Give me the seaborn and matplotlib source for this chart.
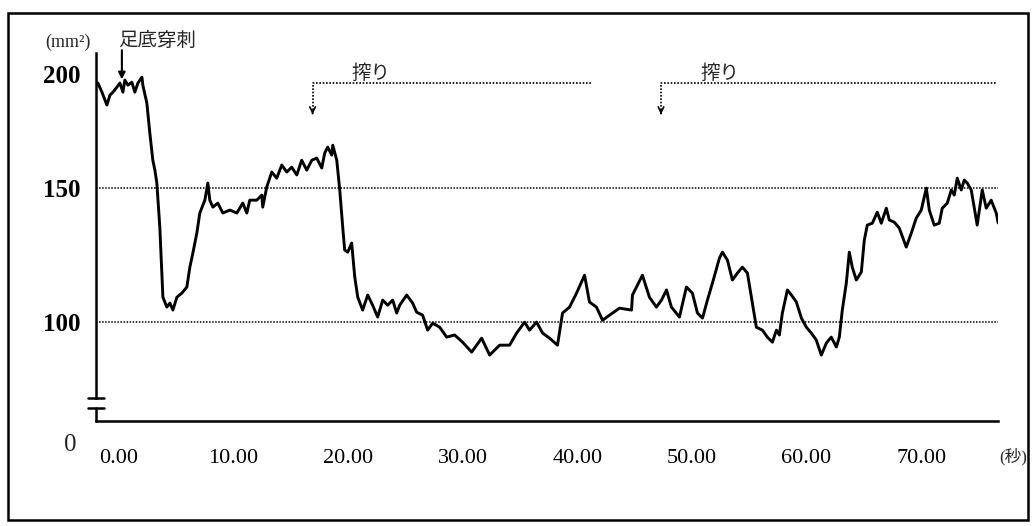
import matplotlib
matplotlib.use("Agg")
import matplotlib.pyplot as plt
import matplotlib.transforms as mtransforms
import pandas as pd
import seaborn as sns
from matplotlib.patches import Rectangle

# trace: time (s) and area (mm^2)
time_s = [
    -2.00, -1.83, -1.48, -1.05, -0.78, -0.52, -0.17, 0.09, 0.35, 0.52, 0.78, 1.13,
    1.39, 1.66, 2.01, 2.09, 2.44, 2.70, 2.96, 3.14, 3.31, 3.57, 3.84, 4.18, 4.45,
    4.71, 5.06, 5.49, 5.93, 6.19, 6.45, 6.80, 7.06, 7.50, 7.76, 7.93, 8.20, 8.63,
    9.07, 9.68, 10.29, 10.81, 11.16, 11.42, 12.03, 12.47, 12.55, 12.90, 13.34,
    13.77, 14.21, 14.65, 15.08, 15.52, 15.95, 16.39, 16.83, 17.26, 17.70, 17.96,
    18.22, 18.57, 18.66, 19.01, 19.27, 19.53, 19.70, 19.97, 20.31, 20.58, 20.84,
    21.27, 21.71, 22.14, 22.58, 23.02, 23.45, 23.89, 24.24, 24.50, 25.11, 25.63,
    25.98, 26.50, 26.94, 27.38, 27.99, 28.60, 29.29, 29.99, 30.78, 31.65, 32.35,
    33.22, 34.09, 34.70, 35.40, 35.83, 36.44, 36.97, 37.58, 38.27, 38.71, 39.32,
    39.93, 40.63, 41.06, 41.67, 42.20, 42.81, 43.68, 44.73, 44.81, 45.68, 46.29,
    46.90, 47.34, 47.78, 48.21, 48.91, 49.52, 50.04, 50.48, 50.92, 51.35, 51.79,
    52.40, 52.66, 53.10, 53.53, 53.97, 54.40, 54.84, 55.19, 55.62, 56.15, 56.58,
    57.02, 57.37, 57.63, 57.89, 58.33, 58.68, 59.11, 59.55, 59.98, 60.42, 60.85,
    61.29, 61.73, 62.16, 62.60, 62.86, 63.12, 63.47, 63.73, 63.99, 64.34, 64.78,
    65.04, 65.30, 65.74, 66.17, 66.52, 66.96, 67.22, 67.65, 68.09, 68.70, 69.14,
    69.57, 70.01, 70.45, 70.71, 71.14, 71.58, 71.84, 72.28, 72.63, 72.89, 73.15,
    73.50, 73.76, 74.02, 74.37, 74.89, 75.33, 75.68, 76.11, 76.55, 76.72,
]
area_mm2 = [
    188.4, 189.2, 185.8, 181.0, 184.7, 185.8, 187.7, 189.2, 185.8, 190.3, 188.4, 189.5,
    185.8, 189.2, 191.4, 188.4, 181.7, 170.5, 160.4, 156.7, 151.9, 135.4, 109.3, 105.6,
    107.1, 104.5, 109.3, 110.8, 113.1, 120.5, 125.7, 133.2, 140.7, 145.5, 151.9, 145.5,
    142.9, 144.4, 140.7, 141.8, 140.7, 144.4, 140.7, 145.5, 145.5, 147.4, 142.9, 150.4,
    156.0, 153.7, 158.6, 156.0, 157.8, 154.9, 160.4, 156.7, 160.4, 161.2, 157.5, 163.1,
    165.3, 162.3, 166.0, 160.4, 149.3, 135.4, 126.9, 126.1, 129.5, 116.8, 109.3, 104.5,
    110.1, 106.3, 101.9, 108.2, 106.3, 108.2, 103.4, 106.3, 110.1, 107.1, 103.7, 102.6,
    97.0, 99.6, 98.1, 94.4, 95.2, 92.5, 88.8, 94.0, 87.7, 91.4, 91.4, 95.9, 100.0, 97.0,
    100.0, 95.9, 94.0, 91.4, 103.4, 105.6, 110.8, 117.5, 107.5, 105.6, 100.7, 102.6,
    105.2, 104.5, 110.1, 117.5, 109.3, 105.6, 108.2, 112.0, 105.6, 101.9, 113.1, 110.8,
    103.4, 101.5, 108.2, 114.6, 123.9, 126.1, 123.1, 115.7, 118.3, 120.5, 118.3, 109.3,
    98.1, 97.0, 94.4, 92.5, 97.0, 95.2, 103.4, 112.0, 110.1, 107.5, 101.5, 98.1, 95.9,
    93.3, 87.7, 92.2, 94.4, 90.7, 94.4, 104.5, 114.6, 126.1, 120.5, 115.7, 118.7, 130.6,
    136.2, 136.9, 141.0, 136.9, 142.5, 138.1, 137.3, 135.1, 128.0, 133.2, 138.8, 141.8,
    150.0, 141.8, 136.2, 136.9, 142.5, 144.4, 149.3, 147.4, 153.7, 149.3, 153.0, 151.9,
    149.3, 136.2, 149.3, 142.5, 145.5, 140.7, 137.0,
]

x_ticks = [0, 10, 20, 30, 40, 50, 60, 70]
x_tick_labels = ["0.00", "10.00", "20.00", "30.00", "40.00", "50.00", "60.00", "70.00"]
y_ticks = [200, 150, 100]
y_tick_labels = ["200", "150", "100"]
ref_levels = [150, 100]

# events
puncture_t = 0.26
squeeze_start = [16.9, 47.3]
squeeze_end = [41.3, 76.6]
squeeze_level = 189.2
squeeze_tip = 176.5

x_lim = (-2.0, 76.7)
y_lim = (63.1, 200.4)
break_lo, break_hi = 67.9, 71.6

df = pd.DataFrame({"t": time_s, "area": area_mm2})

sns.set_theme(style="white")
plt.rcParams["font.family"] = ["Liberation Serif", "Noto Sans CJK JP"]

fig = plt.figure(figsize=(10.32, 5.26), dpi=100)
ax = fig.add_axes([0.093, 0.1996, 0.874, 0.6996])

sns.lineplot(data=df, x="t", y="area", color="black", linewidth=2.1,
             estimator=None, sort=False, ax=ax)

for lvl in ref_levels:
    ax.axhline(lvl, color="black", lw=1.1, ls=(0, (1, 1)), zorder=1)

ax.set_xlim(*x_lim)
ax.set_ylim(*y_lim)
ax.set_xlabel("")
ax.set_ylabel("")

# spines with axis break
for side in ["top", "right"]:
    ax.spines[side].set_visible(False)
for side in ["left", "bottom"]:
    ax.spines[side].set_color("black")
    ax.spines[side].set_linewidth(1.8)
ax.spines["left"].set_bounds(break_hi, y_lim[1])
ytr = mtransforms.blended_transform_factory(ax.transAxes, ax.transData)
ax.plot([0, 0], [y_lim[0], break_lo], color="black", lw=1.8, transform=ytr, clip_on=False)
for b in [break_lo, break_hi]:
    ax.plot([-0.009, 0.009], [b, b], color="black", lw=1.8, transform=ytr, clip_on=False)

ax.set_xticks(x_ticks)
ax.set_xticklabels(x_tick_labels, fontsize=16)
ax.set_yticks(y_ticks)
ax.set_yticklabels(y_tick_labels, fontsize=18, fontweight="bold")
ax.tick_params(axis="x", direction="in", length=5, width=1.5, color="black", pad=20, labelcolor="black")
ax.tick_params(axis="y", length=0, pad=11, labelcolor="black")

# the "200" label sits a little below the axis top in the original
shift = mtransforms.ScaledTranslation(0, -0.2, fig.dpi_scale_trans)
lab200 = ax.yaxis.get_major_ticks()[0].label1
lab200.set_transform(lab200.get_transform() + shift)

ax.text(-0.029, -0.065, "0", transform=ax.transAxes, ha="center", va="center", fontsize=18)
ax.text(1.017, -0.098, "(秒)", transform=ax.transAxes, ha="center", va="center", fontsize=12)
ax.text(-0.031, 1.030, "(mm²)", transform=ax.transAxes, ha="center", va="center", fontsize=13)
ax.text(0.0676, 1.035, "足底穿刺", transform=ax.transAxes, ha="center", va="center",
        fontsize=14, family=["Noto Sans CJK JP"])
ax.annotate("", xy=(puncture_t, 189.5), xytext=(puncture_t, 202.5),
            arrowprops=dict(arrowstyle="-|>", color="black", lw=1.5, mutation_scale=10),
            annotation_clip=False)

for s, e in zip(squeeze_start, squeeze_end):
    ax.plot([s, s, e], [squeeze_tip + 2.5, squeeze_level, squeeze_level],
            color="black", lw=1.2, ls=(0, (1, 1)), clip_on=False)
    ax.annotate("", xy=(s, squeeze_tip), xytext=(s, squeeze_tip + 2.5),
                arrowprops=dict(arrowstyle="->", color="black", lw=1.2, mutation_scale=10),
                annotation_clip=False)
    ax.text(s + 5.1, squeeze_level - 0.3, "搾り", ha="center", va="bottom",
            fontsize=14, family=["Noto Sans CJK JP"])

fig.patches.append(Rectangle((0.0078, 0.0114), 0.988, 0.964, transform=fig.transFigure,
                             fill=False, edgecolor="black", lw=1.8))

fig.savefig("out.png", dpi=100, facecolor="white")
